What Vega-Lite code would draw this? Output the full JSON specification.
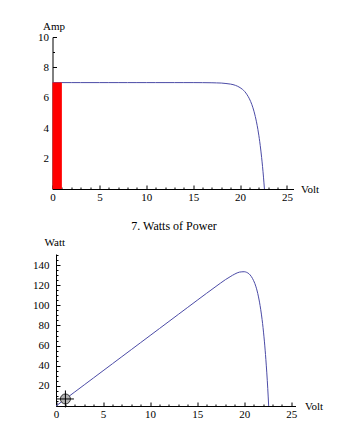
{
  "$schema": "https://vega.github.io/schema/vega-lite/v6.json",
  "padding": {"left": 32.5, "top": 20, "right": 5, "bottom": 5},
  "background": "white",
  "config": {
    "view": {"stroke": null},
    "font": "Liberation Serif",
    "axis": {
      "domainColor": "black",
      "tickColor": "black",
      "labelColor": "black",
      "titleColor": "black",
      "labelFont": "Liberation Serif",
      "titleFont": "Liberation Serif",
      "labelFontSize": 11,
      "titleFontSize": 11,
      "titleFontWeight": "normal",
      "grid": false,
      "labelOverlap": false,
      "labelFlush": false,
      "labelBound": false,
      "tickSize": -4,
      "tickCount": 200,
      "domainWidth": 1,
      "tickWidth": 1
    },
    "title": {"font": "Liberation Serif", "fontSize": 12, "fontWeight": "normal", "color": "black"}
  },
  "datasets": {
    "iv": [
      {"V": 0, "I": 7, "P": 0},
      {"V": 1, "I": 7, "P": 7},
      {"V": 2, "I": 7, "P": 14},
      {"V": 3, "I": 7, "P": 21},
      {"V": 4, "I": 7, "P": 28},
      {"V": 5, "I": 7, "P": 35},
      {"V": 6, "I": 7, "P": 42},
      {"V": 7, "I": 7, "P": 49},
      {"V": 8, "I": 7, "P": 56},
      {"V": 9, "I": 7, "P": 63},
      {"V": 10, "I": 7, "P": 70},
      {"V": 11, "I": 7, "P": 77},
      {"V": 12, "I": 7, "P": 84},
      {"V": 13, "I": 7, "P": 91},
      {"V": 14, "I": 7, "P": 98},
      {"V": 15, "I": 7, "P": 105},
      {"V": 16, "I": 6.997, "P": 111.95},
      {"V": 17, "I": 6.99, "P": 118.8},
      {"V": 17.5, "I": 6.98, "P": 122.2},
      {"V": 18, "I": 6.97, "P": 125.5},
      {"V": 18.5, "I": 6.94, "P": 128.4},
      {"V": 19, "I": 6.9, "P": 131.1},
      {"V": 19.5, "I": 6.82, "P": 133.0},
      {"V": 20, "I": 6.67, "P": 133.4},
      {"V": 20.25, "I": 6.56, "P": 132.8},
      {"V": 20.5, "I": 6.41, "P": 131.4},
      {"V": 20.75, "I": 6.2, "P": 128.7},
      {"V": 21, "I": 5.93, "P": 124.5},
      {"V": 21.25, "I": 5.57, "P": 118.4},
      {"V": 21.5, "I": 5.08, "P": 109.2},
      {"V": 21.75, "I": 4.42, "P": 96.1},
      {"V": 21.9, "I": 3.925, "P": 86.0},
      {"V": 22, "I": 3.54, "P": 77.9},
      {"V": 22.05, "I": 3.33, "P": 73.4},
      {"V": 22.15, "I": 2.875, "P": 63.7},
      {"V": 22.3, "I": 2.08, "P": 46.4},
      {"V": 22.4, "I": 1.47, "P": 32.9},
      {"V": 22.5, "I": 0.78, "P": 17.6},
      {"V": 22.55, "I": 0.4, "P": 9.0},
      {"V": 22.6, "I": 0, "P": 0}
    ],
    "bar": [{"V0": 0, "V1": 1, "I": 7}],
    "op": [{"V": 1, "P": 7}]
  },
  "concat": [
    {
      "width": 241,
      "height": 152,
      "layer": [
        {
          "data": {"name": "iv"},
          "mark": {"type": "line", "color": "#4b4ba6", "strokeWidth": 1, "clip": true, "interpolate": "monotone"},
          "encoding": {
            "x": {
              "field": "V", "type": "quantitative",
              "scale": {"domain": [0, 25.7], "nice": false, "zero": false},
              "axis": {
                "values": [0,1,2,3,4,5,6,7,8,9,10,11,12,13,14,15,16,17,18,19,20,21,22,23,24,25],
                "tickCount": 200,
                "format": "d",
                "labelOverlap": false,
                "labelExpr": "datum.value % 5 === 0 ? datum.label : ''",
                "tickDash": {"condition": {"test": "datum.value % 5 !== 0", "value": [2, 10]}, "value": []},
                "labelPadding": 6,
                "title": "Volt", "titleAngle": 0, "titleAlign": "left", "titleBaseline": "alphabetic",
                "titleX": 248, "titleY": 3
              }
            },
            "y": {
              "field": "I", "type": "quantitative",
              "scale": {"domain": [0, 10], "nice": false},
              "axis": {
                "values": [0,0.5,1,1.5,2,2.5,3,3.5,4,4.5,5,5.5,6,6.5,7,7.5,8,8.5,9,9.5,10],
                "tickCount": 200,
                "format": "d",
                "labelOverlap": false,
                "labelExpr": "datum.value % 2 === 0 && datum.value > 0 ? datum.label : ''",
                "tickDash": {"condition": {"test": "datum.value % 2 !== 0", "value": [2, 10]}, "value": []},
                "labelPadding": 8,
                "title": "Amp", "titleAngle": 0, "titleAlign": "left", "titleBaseline": "alphabetic",
                "titleX": -10, "titleY": -8
              }
            }
          }
        },
        {
          "data": {"name": "bar"},
          "mark": {"type": "rect", "color": "#ff0000"},
          "encoding": {
            "x": {"field": "V0", "type": "quantitative"},
            "x2": {"field": "V1"},
            "y": {"field": "I", "type": "quantitative"},
            "y2": {"datum": 0}
          }
        }
      ]
    },
    {
      "width": 243,
      "height": 152,
      "title": {"text": "7. Watts of Power", "anchor": "middle", "offset": 3},
      "layer": [
        {
          "data": {"name": "iv"},
          "mark": {"type": "line", "color": "#4b4ba6", "strokeWidth": 1, "clip": true, "interpolate": "monotone"},
          "encoding": {
            "x": {
              "field": "V", "type": "quantitative",
              "scale": {"domain": [0, 25.45], "range": [3.5, 243], "nice": false, "zero": false},
              "axis": {
                "values": [0,1,2,3,4,5,6,7,8,9,10,11,12,13,14,15,16,17,18,19,20,21,22,23,24,25],
                "tickCount": 200,
                "format": "d",
                "labelOverlap": false,
                "labelExpr": "datum.value % 5 === 0 ? datum.label : ''",
                "tickDash": {"condition": {"test": "datum.value % 5 !== 0", "value": [2, 10]}, "value": []},
                "labelPadding": 6,
                "title": "Volt", "titleAngle": 0, "titleAlign": "left", "titleBaseline": "alphabetic",
                "titleX": 252, "titleY": 3
              }
            },
            "y": {
              "field": "P", "type": "quantitative",
              "scale": {"domain": [0, 151], "nice": false},
              "axis": {
                "offset": -3.5,
                "values": [0,5,10,15,20,25,30,35,40,45,50,55,60,65,70,75,80,85,90,95,100,105,110,115,120,125,130,135,140,145,150],
                "tickCount": 200,
                "format": "d",
                "labelOverlap": false,
                "labelExpr": "datum.value % 20 === 0 && datum.value > 0 ? datum.label : ''",
                "tickDash": {"condition": {"test": "datum.value % 20 !== 0", "value": [2, 10]}, "value": []},
                "labelPadding": 11,
                "title": "Watt", "titleAngle": 0, "titleAlign": "left", "titleBaseline": "alphabetic",
                "titleX": -12, "titleY": -9
              }
            }
          }
        },
        {
          "data": {"name": "op"},
          "mark": {"type": "point", "shape": "circle", "filled": true, "size": 100, "fill": "#b4b4b4", "stroke": "#333333", "strokeWidth": 1, "opacity": 1},
          "encoding": {
            "x": {"field": "V", "type": "quantitative"},
            "y": {"field": "P", "type": "quantitative"}
          }
        },
        {
          "data": {"name": "op"},
          "mark": {"type": "point", "shape": "M-1,0L1,0M0,-1L0,1", "filled": false, "size": 289, "stroke": "black", "strokeWidth": 1, "opacity": 1},
          "encoding": {
            "x": {"field": "V", "type": "quantitative"},
            "y": {"field": "P", "type": "quantitative"}
          }
        }
      ]
    }
  ],
  "columns": 1,
  "spacing": 18
}
